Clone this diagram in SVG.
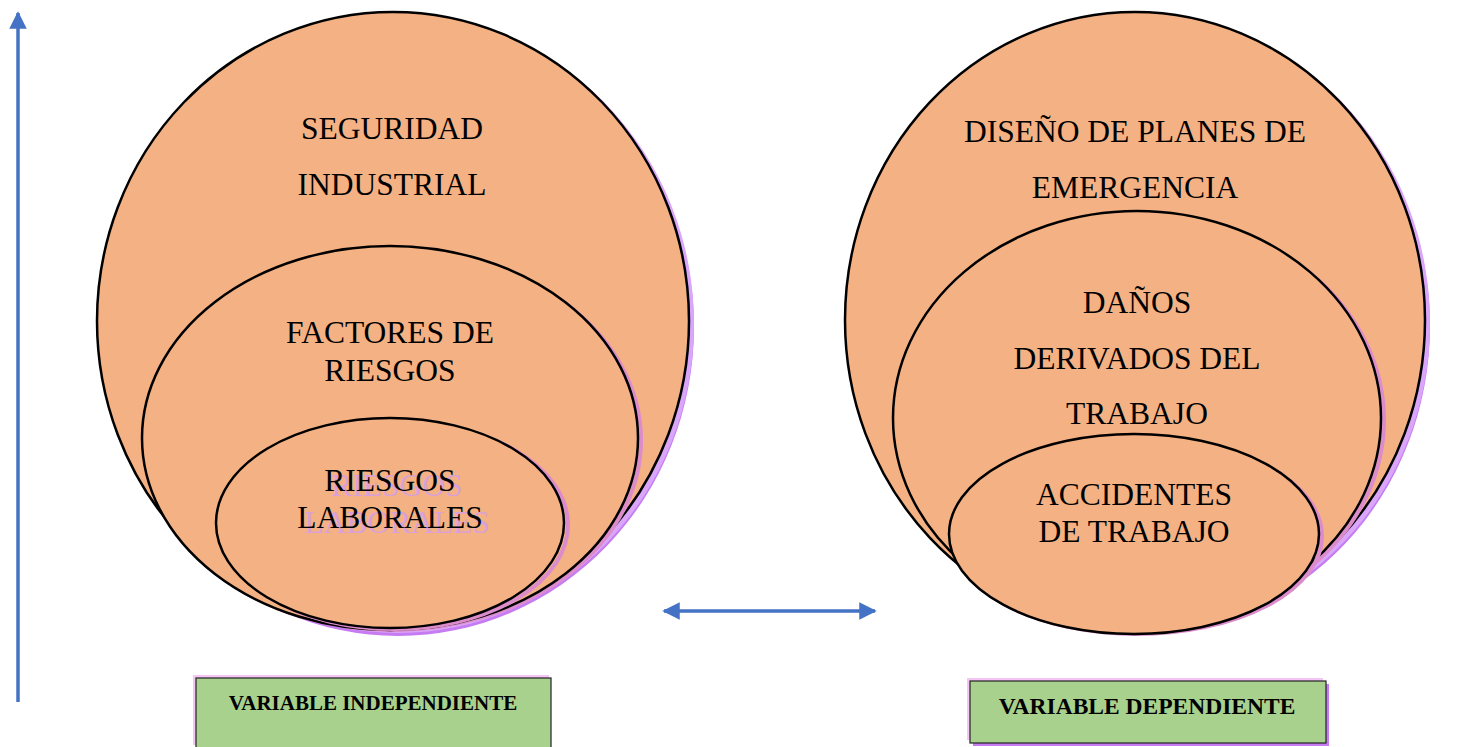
<svg xmlns="http://www.w3.org/2000/svg" width="1474" height="747" viewBox="0 0 1474 747">
<style>
.e{fill:#F4B183;stroke:#000;stroke-width:2.5}
.sh{fill:#D9A6FA}
.sh2{fill:none;stroke:#DC8CCB;stroke-width:4}
.t{font-family:"Liberation Serif","Times New Roman",serif;font-size:31.5px;fill:#000;text-anchor:middle}
.g{font-family:"Liberation Serif","Times New Roman",serif;font-size:31.5px;fill:#D9A0D9;text-anchor:middle}
.b{font-family:"Liberation Serif","Times New Roman",serif;font-weight:bold;fill:#000;text-anchor:middle}
.box{fill:#A9D18E;stroke:#222;stroke-width:1.2}
.ar{stroke:#4472C4;stroke-width:3.5;fill:none}
</style>
<defs>
<marker id="ah" viewBox="0 0 10 10" refX="9" refY="5" markerWidth="5" markerHeight="5" orient="auto-start-reverse" markerUnits="strokeWidth">
<path d="M0,0 L10,5 L0,10 z" fill="#4472C4"/>
</marker>
</defs>
<rect width="1474" height="747" fill="#fff"/>

<g id="left-outer">
<ellipse cx="398" cy="327" rx="296" ry="309" fill="#C77BF2"/>
<ellipse class="sh" cx="398" cy="324" rx="296" ry="309"/>
<ellipse class="e" cx="393" cy="321" rx="296" ry="309"/>
<text class="t" x="392" y="139">SEGURIDAD</text>
<text class="t" x="392" y="195">INDUSTRIAL</text>
</g>
<g id="left-middle">
<ellipse class="sh2" cx="393" cy="440" rx="248" ry="190"/>
<ellipse class="e" cx="390" cy="438" rx="248" ry="192"/>
<text class="t" x="390" y="343">FACTORES DE</text>
<text class="t" x="390" y="381">RIESGOS</text>
</g>
<g id="left-inner">
<ellipse class="sh2" cx="394" cy="525" rx="174" ry="104" stroke-width="2.5"/>
<ellipse class="e" cx="390" cy="523" rx="174" ry="105"/>
<text class="g" x="397" y="496">RIESGOS</text>
<text class="g" x="397" y="533">LABORALES</text>
<text class="t" x="390" y="491">RIESGOS</text>
<text class="t" x="390" y="528">LABORALES</text>
</g>

<g id="right-outer">
<ellipse cx="1140" cy="326" rx="290" ry="308" fill="#C77BF2"/>
<ellipse class="sh" cx="1140" cy="323" rx="290" ry="308"/>
<ellipse class="e" cx="1135" cy="320" rx="290" ry="308"/>
<text class="t" x="1135" y="142">DISEÑO DE PLANES DE</text>
<text class="t" x="1135" y="198">EMERGENCIA</text>
</g>
<g id="right-middle">
<ellipse class="sh2" cx="1140" cy="420" rx="244" ry="205"/>
<ellipse class="e" cx="1137" cy="418" rx="244" ry="207"/>
<text class="t" x="1137" y="313">DAÑOS</text>
<text class="t" x="1137" y="369">DERIVADOS DEL</text>
<text class="t" x="1137" y="424">TRABAJO</text>
</g>
<g id="right-inner">
<ellipse class="sh2" cx="1137" cy="536" rx="185" ry="98" stroke-width="2.5"/>
<ellipse class="e" cx="1134" cy="534" rx="185" ry="100"/>
<text class="t" x="1134" y="505">ACCIDENTES</text>
<text class="t" x="1134" y="542">DE TRABAJO</text>
</g>

<g id="connectors">
<line class="ar" x1="18" y1="702" x2="18" y2="13" marker-end="url(#ah)"/>
<line class="ar" x1="664" y1="611" x2="875" y2="611" marker-start="url(#ah)" marker-end="url(#ah)"/>
</g>

<g id="box-independiente">
<rect x="193" y="675" width="356" height="70" fill="#F5C6F5"/>
<rect class="box" x="196" y="678" width="355" height="70"/>
<text class="b" x="373" y="710" font-size="21">VARIABLE INDEPENDIENTE</text>
</g>
<g id="box-dependiente">
<rect x="973" y="684" width="356" height="62" fill="#C77BF2"/>
<rect x="967" y="678" width="356" height="62" fill="#F5C6F5"/>
<rect class="box" x="970" y="681" width="356" height="62"/>
<text class="b" x="1147" y="714" font-size="23.5">VARIABLE DEPENDIENTE</text>
</g>
</svg>
